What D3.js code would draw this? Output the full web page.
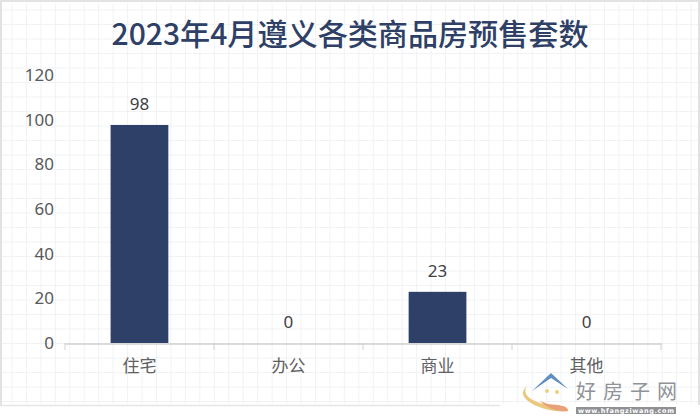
<!DOCTYPE html>
<html><head><meta charset="utf-8">
<script src="https://cdnjs.cloudflare.com/ajax/libs/d3/7.8.5/d3.min.js"></script>
<style>html,body{margin:0;padding:0;background:#fff}svg{display:block}
text{font-family:"Noto Sans CJK SC","Noto Sans",sans-serif}</style></head>
<body><svg id="c" width="700" height="418"></svg>
<script>
const titleText = "2023年4月遵义各类商品房预售套数";
const categories = ["住宅","办公","商业","其他"];
const values = [98,0,23,0];
const yTicks = [0,20,40,60,80,100,120];
const gridXs = d3.range(12,700,14.45);
const gridYs = d3.range(10,404,14.5);

const svg = d3.select("#c");
const x = d3.scaleBand().domain(categories).range([65,661]).paddingInner(0.6125).paddingOuter(0.306);
const band = d3.scaleBand().domain(categories).range([65,661]);
const y = d3.scaleLinear().domain([0,120]).range([343,76]);
const yLabel = d3.scaleLinear().domain([0,120]).range([343,75]);

svg.append("rect").attr("width",700).attr("height",418).attr("fill","#fff");
svg.append("g").selectAll("line").data(gridXs).join("line")
  .attr("x1",d=>d).attr("x2",d=>d).attr("y1",3).attr("y2",404)
  .attr("stroke","#f0f2f4").attr("stroke-width",1);
svg.append("g").selectAll("line").data(gridYs).join("line")
  .attr("y1",d=>d).attr("y2",d=>d).attr("x1",2).attr("x2",698)
  .attr("stroke","#f0f2f4").attr("stroke-width",1);
svg.append("path").attr("d","M1 405 V1 H699 V405").attr("fill","none").attr("stroke","#e2e2e2").attr("stroke-width",2);
svg.append("path").attr("d","M0 405.5 H500").attr("fill","none").attr("stroke","#e6e6e6").attr("stroke-width",1.5);

svg.append("text").attr("x",350).attr("y",45).attr("text-anchor","middle")
  .attr("font-size",30.1).attr("font-weight",500).attr("fill","#2f4066").text(titleText);

const yAxis = svg.append("g").attr("transform","translate(54,0)")
  .call(d3.axisLeft(yLabel).tickValues(yTicks).tickSize(0).tickPadding(0));
yAxis.select(".domain").remove();
yAxis.selectAll("text").attr("font-size",17).attr("fill","#595959")
  .style("font-family",'"Noto Sans","Noto Sans CJK SC",sans-serif');

svg.append("g").selectAll("rect").data(values).join("rect")
  .attr("x",(d,i)=>x(categories[i]))
  .attr("width",x.bandwidth())
  .attr("y",d=>y(d)).attr("height",d=>y(0)-y(d))
  .attr("fill","#2e4068");

const xAxis = d3.axisBottom(band).tickSize(0).tickPadding(0);
const xg = svg.append("g").attr("transform","translate(0,343.5)").call(xAxis);
xg.select(".domain").attr("stroke","#d0d0d0").attr("stroke-width",1.5);
xg.selectAll("text").attr("font-size",17).attr("fill","#606060").attr("dy",0).attr("y",28);
svg.append("g").selectAll("line").data(d3.range(categories.length+1)).join("line")
  .attr("x1",i=>band.range()[0]+i*band.step()).attr("x2",i=>band.range()[0]+i*band.step())
  .attr("y1",343).attr("y2",350).attr("stroke","#d0d0d0").attr("stroke-width",1);

svg.append("g").selectAll("text").data(values).join("text")
  .attr("x",(d,i)=>x(categories[i])+x.bandwidth()/2)
  .attr("y",d=>y(d)-15).attr("text-anchor","middle")
  .attr("font-size",17).attr("fill","#404040")
  .style("font-family",'"Noto Sans",sans-serif').text(d=>d);

// watermark
const wm = svg.append("g");
wm.append("path").attr("d","M532 381 C516 392 530 405 560 406 C566 406 568 408 568 411 C548 414 514 400 525 388 C527 385 529 383 532 381Z").attr("fill","#e9c77b");
wm.append("path").attr("d","M568 411 C568 406 560 405 548 404 L540 401 C548 409 558 412 568 411Z").attr("fill","#e8a17a");
wm.append("path").attr("d","M532 391 L551 373 L568 389 L551 378Z").attr("fill","#5f8fc0");
wm.append("circle").attr("cx",547).attr("cy",391).attr("r",2).attr("fill","#ecd27c");
wm.append("circle").attr("cx",557).attr("cy",392).attr("r",2).attr("fill","#ecd27c");
wm.append("text").attr("x",576).attr("y",399).attr("font-size",20).attr("fill","#8f9298")
  .attr("letter-spacing",7).style("font-family",'"Noto Sans CJK SC"').text("好房子网");
wm.append("rect").attr("x",576).attr("y",407).attr("width",100).attr("height",7).attr("fill","#8f9094");
wm.append("text").attr("x",578).attr("y",413).attr("font-size",6.5)
  .attr("font-weight",700).attr("textLength",96).attr("fill","#fff")
  .style("font-family",'"DejaVu Sans"').text("www.hfangziwang.com");
</script></body></html>
